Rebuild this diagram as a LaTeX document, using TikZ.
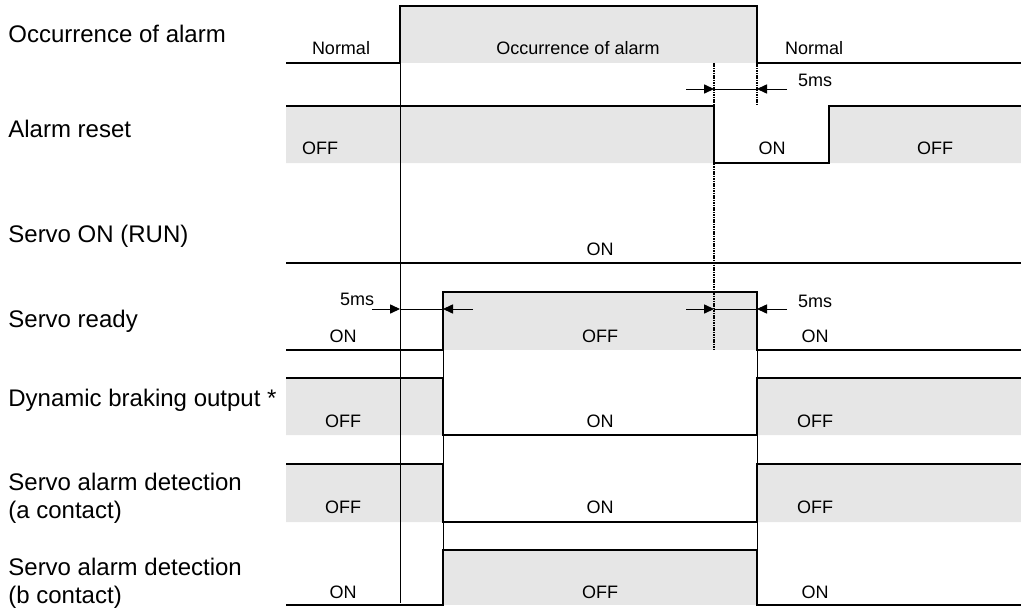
\documentclass[tikz,border=0pt]{standalone}
\usepackage{fontspec}
\setmainfont{Liberation Sans}
\usetikzlibrary{arrows.meta}
\definecolor{shd}{HTML}{E6E6E6}
\tikzset{
  wv/.style={draw=black,line width=.6pt},
  fl/.style={fill=shd},
  vl/.style={draw=black,line width=.45pt},
  mk/.style={draw=black,line width=.8pt,dash pattern=on .8pt off .4pt},
  dm/.style={-{Triangle[length=5pt,width=4.6pt]},draw=black,line width=.45pt},
  lb/.style={font=\fontsize{9}{10}\selectfont,inner sep=0pt,anchor=base},
  nm/.style={font=\fontsize{12}{14}\selectfont,inner sep=0pt,anchor=base west},
}

\begin{document}
\begin{tikzpicture}[x=.5pt,y=-.5pt]
\useasboundingbox (0,0) rectangle (1021,610);
% ---- shaded levels
\fill[fl] (400,6) rectangle (757,63);
\fill[fl] (286,106) rectangle (714,163) (829,106) rectangle (1021,163);
\fill[fl] (443,292) rectangle (757,350);
\fill[fl] (286,378) rectangle (443,435) (757,378) rectangle (1021,435);
\fill[fl] (286,464) rectangle (443,522) (757,464) rectangle (1021,522);
\fill[fl] (443,550) rectangle (757,605);
% ---- time marks
\draw[vl] (400,6) -- (400,603);
\draw[vl] (443,292) -- (443,605);
\draw[vl] (757,292) -- (757,605);
\draw[mk] (714,63) -- (714,350);
\draw[mk] (757,63) -- (757,106);
% ---- waveforms
\draw[wv] (286,63) -- (400,63) -- (400,6) -- (757,6) -- (757,63) -- (1021,63);
\draw[wv] (286,106) -- (714,106) -- (714,163) -- (829,163) -- (829,106) -- (1021,106);
\draw[wv] (286,263) -- (1021,263);
\draw[wv] (286,350) -- (443,350) -- (443,292) -- (757,292) -- (757,350) -- (1021,350);
\draw[wv] (286,378) -- (443,378) -- (443,435) -- (757,435) -- (757,378) -- (1021,378);
\draw[wv] (286,464) -- (443,464) -- (443,522) -- (757,522) -- (757,464) -- (1021,464);
\draw[wv] (286,605) -- (443,605) -- (443,550) -- (757,550) -- (757,605) -- (1021,605);
% ---- 5ms spans
\foreach \d/\a/\b/\y in {d1/714/757/89, d2/400/443/309, d3/714/757/309} {
  \coordinate (\d l) at (\a-28,\y); \coordinate (\d a) at (\a,\y);
  \coordinate (\d b) at (\b,\y);    \coordinate (\d r) at (\b+30,\y);
  \draw[dm] (\d l) -- (\d a);
  \draw[dm] (\d r) -- (\d b);
  \draw[vl] (\d a) -- (\d b);
}
\node[lb] (t1) at (815,87) {5ms};
\node[lb] (t2) at (357,305) {5ms};
\node[lb] (t3) at (815,307) {5ms};
% ---- signal names
\node[nm] (s1) at (8,43) {Occurrence of alarm};
\node[nm] (s2) at (8,137) {Alarm reset};
\node[nm] (s3) at (8,242) {Servo ON (RUN)};
\node[nm] (s4) at (8,327) {Servo ready};
\node[nm] (s5) at (8,406) {Dynamic braking output *};
\node[nm] (s6) at (8,490) {Servo alarm detection};
\node[nm] (s6b) at (8,518) {(a contact)};
\node[nm] (s7) at (8,575) {Servo alarm detection};
\node[nm] (s7b) at (8,603) {(b contact)};
% ---- levels
\node[lb] (a1) at (341,55) {Normal};
\node[lb] (a2) at (578,55) {Occurrence of alarm};
\node[lb] (a3) at (814,55) {Normal};
\node[lb] (r1) at (320,155) {OFF};
\node[lb] (r2) at (772,155) {ON};
\node[lb] (r3) at (935,155) {OFF};
\node[lb] (n1) at (600,255) {ON};
\node[lb] (y1) at (343,342) {ON};
\node[lb] (y2) at (600,342) {OFF};
\node[lb] (y3) at (815,342) {ON};
\node[lb] (b1) at (343,427) {OFF};
\node[lb] (b2) at (600,427) {ON};
\node[lb] (b3) at (815,427) {OFF};
\node[lb] (c1) at (343,513) {OFF};
\node[lb] (c2) at (600,513) {ON};
\node[lb] (c3) at (815,513) {OFF};
\node[lb] (e1) at (343,598) {ON};
\node[lb] (e2) at (600,598) {OFF};
\node[lb] (e3) at (815,598) {ON};
\end{tikzpicture}
\end{document}
